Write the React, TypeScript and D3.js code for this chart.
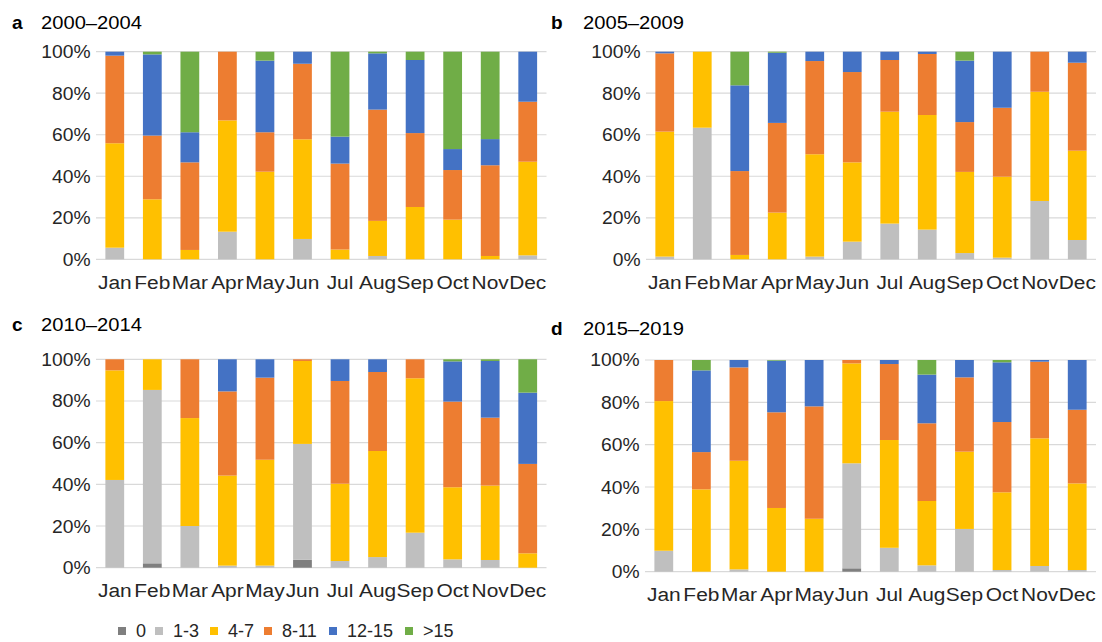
import React from 'react';
import * as d3 from 'd3';

const months = ['Jan', 'Feb', 'Mar', 'Apr', 'May', 'Jun', 'Jul', 'Aug', 'Sep', 'Oct', 'Nov', 'Dec'];
const categories = ['0', '1-3', '4-7', '8-11', '12-15', '>15'];
const colors = ['#7f7f7f', '#bfbfbf', '#ffc000', '#ed7d31', '#4472c4', '#70ad47'];
const yTicks = [0, 0.2, 0.4, 0.6, 0.8, 1];

// a 2000–2004
const a0 = [0, 0, 0, 0, 0, 0, 0, 0, 0, 0, 0, 0];
const a1 = [5.6, 0, 0, 13.3, 0, 9.8, 0, 1.6, 0, 0, 0, 1.9];
const a4 = [50.3, 28.9, 4.5, 53.6, 42.2, 48, 4.7, 16.9, 25.2, 19.1, 1.6, 45.1];
const a8 = [42.2, 30.7, 42.2, 33.1, 19, 36.4, 41.4, 53.6, 35.6, 23.9, 43.7, 28.9];
const a12 = [1.9, 39.1, 14.5, 0, 34.5, 5.8, 13, 27.1, 35.2, 10.1, 12.6, 24.1];
const a15 = [0, 1.3, 38.8, 0, 4.3, 0, 40.9, 0.8, 4, 46.9, 42.1, 0];

// b 2005–2009
const b0 = [0, 0, 0, 0, 0, 0, 0, 0, 0, 0, 0, 0];
const b1 = [1.3, 63.4, 0, 0, 1.3, 8.5, 17.2, 14.3, 3, 0.8, 28.1, 9.3];
const b4 = [60.2, 36.6, 2.1, 22.5, 49.3, 38.2, 53.9, 55.2, 39.1, 39, 52.6, 43];
const b8 = [37.7, 0, 40.4, 43.2, 44.9, 43.5, 24.9, 29.4, 24, 33.2, 19.3, 42.4];
const b12 = [0.8, 0, 41.3, 33.8, 4.5, 9.8, 4, 1.1, 29.6, 27, 0, 5.3];
const b15 = [0, 0, 16.2, 0.5, 0, 0, 0, 0, 4.3, 0, 0, 0];

// c 2010–2014
const c0 = [0, 2.1, 0, 0, 0, 3.8, 0, 0, 0, 0, 0, 0];
const c1 = [42.1, 83.2, 20, 1, 1, 55.6, 3.2, 5.1, 16.8, 4, 3.7, 0];
const c4 = [52.6, 14.7, 51.8, 43.2, 50.8, 39.8, 37.1, 50.9, 74.1, 34.6, 35.7, 6.9];
const c8 = [5.3, 0, 28.2, 40.4, 39.4, 0.8, 49.3, 37.9, 9.1, 41.1, 32.6, 42.9];
const c12 = [0, 0, 0, 15.4, 8.8, 0, 10.4, 6.1, 0, 19.3, 27.2, 34.2];
const c15 = [0, 0, 0, 0, 0, 0, 0, 0, 0, 1, 0.8, 16];

// d 2015–2019
const d0 = [0, 0, 0, 0, 0, 1.6, 0, 0, 0, 0, 0, 0];
const d1 = [9.9, 0, 1.1, 0, 0, 49.6, 11.3, 3, 20.2, 0.8, 2.7, 0.8];
const d4 = [70.7, 38.9, 51.3, 30.1, 25, 47.2, 50.9, 30.4, 36.5, 36.7, 60.3, 40.9];
const d8 = [19.4, 17.6, 44.1, 45.2, 53.1, 1.6, 35.9, 36.7, 35.1, 33.2, 36.2, 34.8];
const d12 = [0, 38.6, 3.5, 24.4, 21.9, 0, 1.9, 23, 8.2, 28.2, 0.8, 23.5];
const d15 = [0, 4.9, 0, 0.3, 0, 0, 0, 6.9, 0, 1.1, 0, 0];

const panels = [
  { letter: 'a', title: '2000–2004', series: [a0, a1, a4, a8, a12, a15], x0: 96, x1: 546.5, y0: 51.7, y1: 259.3, lx: 12, tx: 41, ty: 28.5 },
  { letter: 'b', title: '2005–2009', series: [b0, b1, b4, b8, b12, b15], x0: 646, x1: 1096, y0: 51.7, y1: 259.3, lx: 551, tx: 583, ty: 28.5 },
  { letter: 'c', title: '2010–2014', series: [c0, c1, c4, c8, c12, c15], x0: 96, x1: 546.5, y0: 359.3, y1: 567.7, lx: 12, tx: 41, ty: 331 },
  { letter: 'd', title: '2015–2019', series: [d0, d1, d4, d8, d12, d15], x0: 645, x1: 1096, y0: 360, y1: 571.7, lx: 551, tx: 583, ty: 335 }
];

const font = 'Liberation Sans, Arial, sans-serif';

// the source image is a bit stretched sideways, so text gets a small x scale
const wide = (x: number, y: number, s: number) => `translate(${x},${y}) scale(${s},1)`;

const Panel = ({ p }: { p: any }) => {
  const x = d3.scaleBand<string>().domain(months).range([p.x0, p.x1]).paddingInner(0.5).paddingOuter(0.25);
  const y = d3.scaleLinear().domain([0, 1]).range([p.y1, p.y0]);
  const rows = months.map((m, i) => {
    const r: any = { month: m };
    categories.forEach((c, k) => (r[c] = p.series[k][i]));
    return r;
  });
  const stacked = d3.stack<any>().keys(categories).offset(d3.stackOffsetExpand)(rows);

  return (
    <g>
      <text x={p.lx} y={p.ty} fontFamily={font} fontWeight="bold" fontSize={19} fill="#000">{p.letter}</text>
      <text transform={wide(p.tx, p.ty, 1.12)} fontFamily={font} fontSize={18} fill="#000">{p.title}</text>
      {yTicks.map((t) => (
        <g key={t}>
          <line x1={p.x0} x2={p.x1} y1={y(t)} y2={y(t)} stroke="#d9d9d9" strokeWidth={1.2} />
          <text transform={wide(p.x0 - 5.5, y(t), 1.07)} dy="0.36em" textAnchor="end" fontFamily={font} fontSize={18} fill="#262626">
            {d3.format('.0%')(t)}
          </text>
        </g>
      ))}
      {stacked.map((s, k) => (
        <g key={s.key} fill={colors[k]}>
          {s.map((d) => (
            <rect key={d.data.month} x={x(d.data.month)} width={x.bandwidth()} y={y(d[1])} height={Math.max(0, y(d[0]) - y(d[1]))} />
          ))}
        </g>
      ))}
      {months.map((m) => (
        <text key={m} transform={wide((x(m) as number) + x.bandwidth() / 2, p.y1 + 29.5, 1.1)} textAnchor="middle" fontFamily={font} fontSize={19} fill="#262626">
          {m}
        </text>
      ))}
    </g>
  );
};

const legendX = [118, 155, 210, 264, 329, 405];

export default function App() {
  return (
    <svg width={1102} height={642} style={{ position: 'absolute', left: 0, top: 0, background: '#fff' }}>
      <rect width={1102} height={642} fill="#fff" />
      {panels.map((p) => (
        <Panel key={p.letter} p={p} />
      ))}
      {categories.map((c, k) => (
        <g key={c}>
          <rect x={legendX[k]} y={627} width={8} height={8} fill={colors[k]} />
          <text x={legendX[k] + 18} y={631} dy="0.36em" fontFamily={font} fontSize={18} fill="#262626">{c}</text>
        </g>
      ))}
    </svg>
  );
}
